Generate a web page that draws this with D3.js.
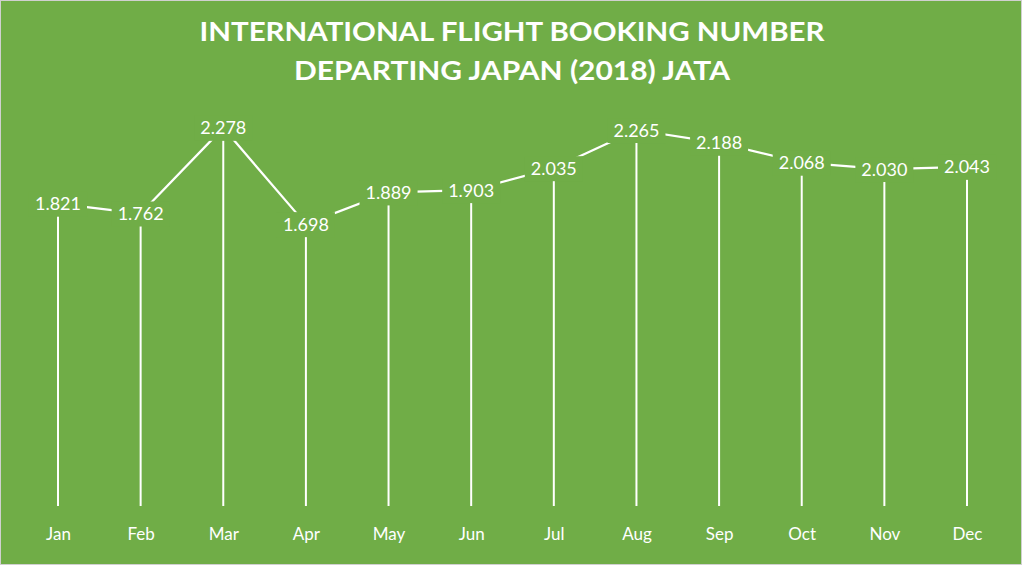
<!DOCTYPE html>
<html>
<head>
<meta charset="utf-8">
<script src="https://cdn.jsdelivr.net/npm/d3@7"></script>
<style>
  html, body { margin: 0; padding: 0; background: #ffffff; }
  svg { display: block; }
</style>
</head>
<body>
<svg id="chart" width="1024" height="567"></svg>
<script>
const months = ["Jan","Feb","Mar","Apr","May","Jun","Jul","Aug","Sep","Oct","Nov","Dec"];
const bookings = [1.821, 1.762, 2.278, 1.698, 1.889, 1.903, 2.035, 2.265, 2.188, 2.068, 2.030, 2.043];
const valueLabels = ["1.821","1.762","2.278","1.698","1.889","1.903","2.035","2.265","2.188","2.068","2.030","2.043"];
const titleLines = ["INTERNATIONAL FLIGHT BOOKING NUMBER", "DEPARTING JAPAN (2018) JATA"];

const W = 1024, H = 567;
const green = "#70AD47";
const svg = d3.select("#chart");

// background with thin border
svg.append("rect").attr("x", 0).attr("y", 0).attr("width", W).attr("height", H).attr("fill", "#ffffff");
svg.append("rect").attr("x", 0.5).attr("y", 0.5).attr("width", 1021).attr("height", 564)
  .attr("fill", green).attr("stroke", "#d0d0d0").attr("stroke-width", 1);

// title
const titleY = [41, 80];
const titleW = [625, 436];
titleLines.forEach((t, i) => {
  svg.append("text")
    .attr("x", 512).attr("y", titleY[i])
    .attr("text-anchor", "middle")
    .attr("font-family", "Lato, 'Open Sans', sans-serif")
    .attr("font-weight", 700)
    .attr("font-size", 27)
    .attr("fill", "#ffffff")
    .attr("textLength", titleW[i])
    .attr("lengthAdjust", "spacingAndGlyphs")
    .text(t);
});

// scales
const x = d3.scalePoint().domain(months).range([58, 967]);
const y = d3.scaleLinear().domain([0, 2.5]).range([506, 91]);

const data = months.map((m, i) => ({ m, v: bookings[i], lbl: valueLabels[i] }));

// drop lines
svg.append("g").selectAll("line").data(data).join("line")
  .attr("x1", d => x(d.m)).attr("x2", d => x(d.m))
  .attr("y1", y(0)).attr("y2", d => y(d.v))
  .attr("stroke", "#ffffff").attr("stroke-width", 2);

// series line
const line = d3.line().x(d => x(d.m)).y(d => y(d.v));
svg.append("path").datum(data)
  .attr("d", line)
  .attr("fill", "none")
  .attr("stroke", "#ffffff")
  .attr("stroke-width", 2.25)
  .attr("stroke-linejoin", "round");

// data labels with green background boxes
const lg = svg.append("g");
data.forEach(d => {
  const g = lg.append("g");
  const t = g.append("text")
    .attr("x", x(d.m)).attr("y", y(d.v) + 6.5)
    .attr("text-anchor", "middle")
    .attr("font-family", "Lato, 'Open Sans', sans-serif")
    .attr("font-size", 18)
    .attr("fill", "#ffffff")
    .text(d.lbl);
  const w = t.node().getComputedTextLength();
  g.insert("rect", "text")
    .attr("x", x(d.m) - w / 2 - 6).attr("y", y(d.v) - 12)
    .attr("width", w + 12).attr("height", 25)
    .attr("fill", green);
});

// x axis labels
const xAxis = d3.axisBottom(x).tickSize(0).tickPadding(0);
const ax = svg.append("g").attr("transform", "translate(0,540)").call(xAxis);
ax.select(".domain").remove();
ax.selectAll("text")
  .attr("dy", 0).attr("y", 0)
  .attr("font-family", "Lato, 'Open Sans', sans-serif")
  .attr("font-size", 17)
  .attr("fill", "#ffffff");
</script>
</body>
</html>
